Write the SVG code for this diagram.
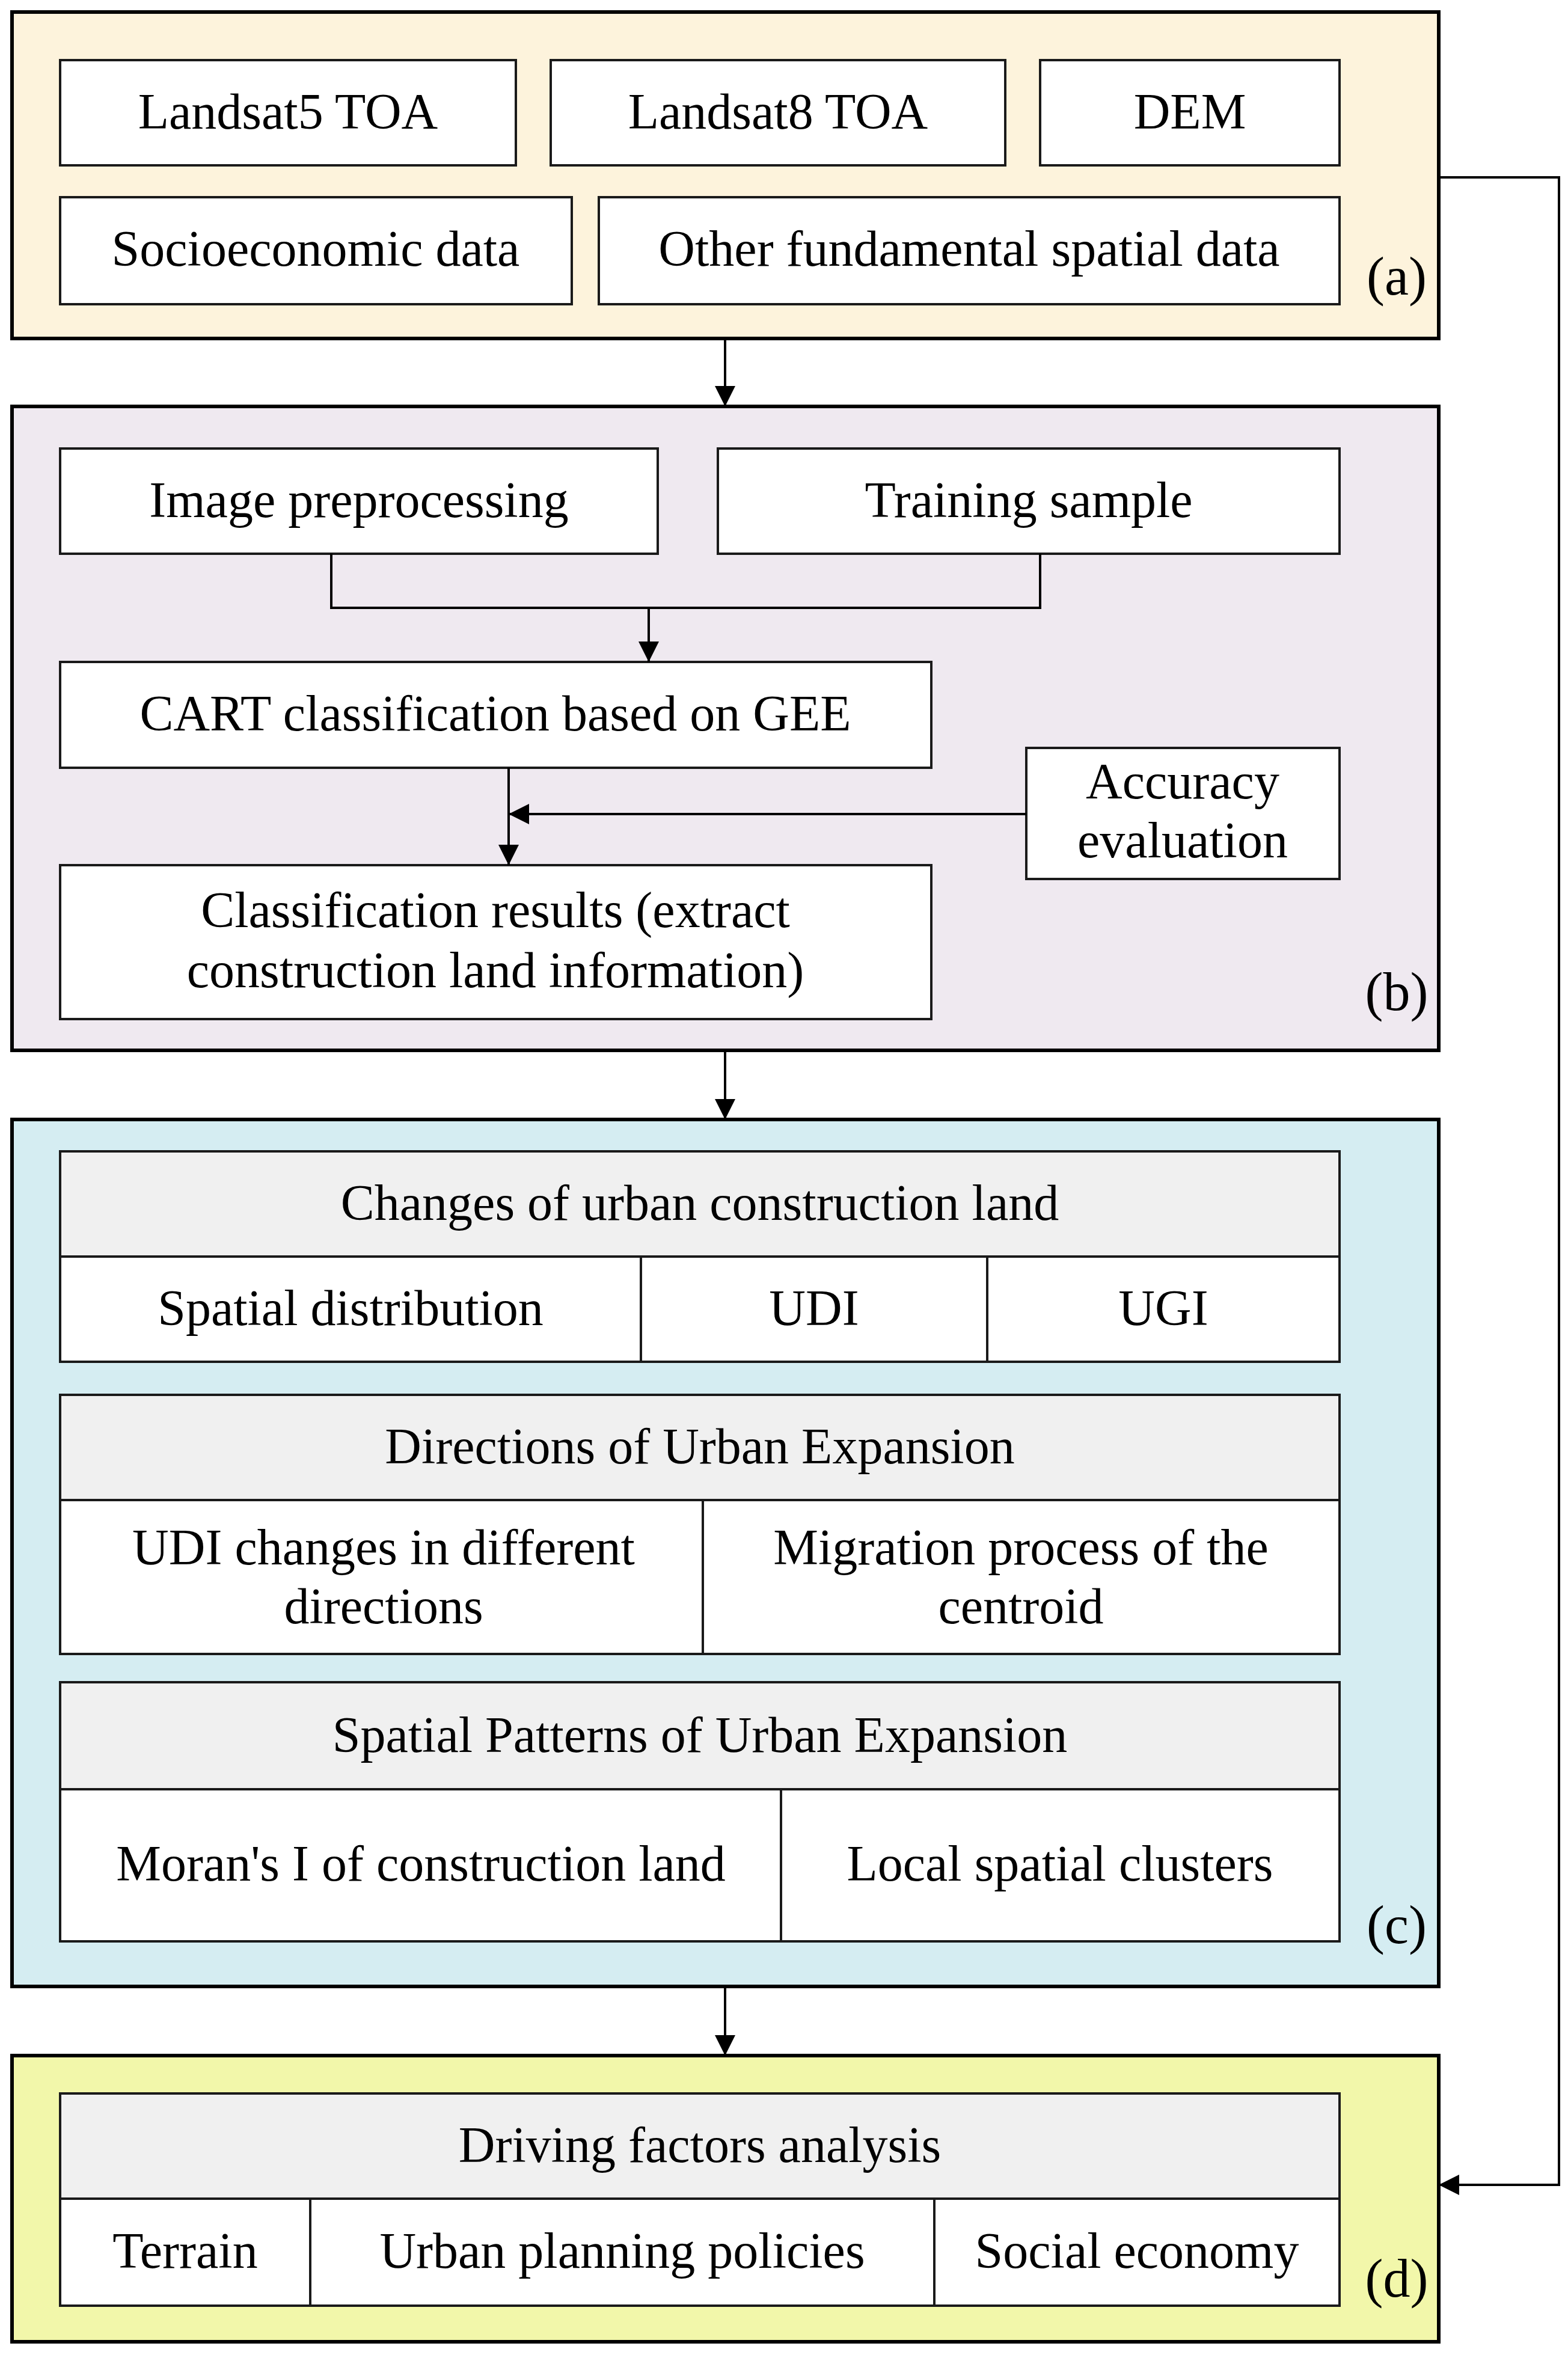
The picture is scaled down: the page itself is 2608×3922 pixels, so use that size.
<svg xmlns="http://www.w3.org/2000/svg" width="2608" height="3922" viewBox="0 0 2608 3922">
<style>
.p{stroke:#000;stroke-width:6}
.b{fill:#fff;stroke:#1a1a1a;stroke-width:4}
.h{fill:#f0f0f0;stroke:#1a1a1a;stroke-width:4}
text{font-family:"Liberation Serif","DejaVu Serif",serif;font-size:84px;fill:#000;text-anchor:middle}
.l{font-size:90px}
.c{fill:none;stroke:#000;stroke-width:4}
</style>
<defs>
<marker id="a" viewBox="0 0 10 10" refX="10" refY="5" markerWidth="40" markerHeight="34" markerUnits="userSpaceOnUse" orient="auto"><path d="M0,0L10,5L0,10z" fill="#000"/></marker></defs>
<rect width="2608" height="3922" fill="#fff"/>
<g id="panelA"><rect class="p" x="20" y="20" width="2373" height="543" fill="#fdf3dc"/><text class="l" x="2323" y="490">(a)</text></g>
<g id="landsat5"><rect class="b" x="100" y="100" width="758" height="175"/><text x="479" y="214">Landsat5 TOA</text></g>
<g id="landsat8"><rect class="b" x="916" y="100" width="756" height="175"/><text x="1294" y="214">Landsat8 TOA</text></g>
<g id="dem"><rect class="b" x="1730" y="100" width="498" height="175"/><text x="1979" y="214">DEM</text></g>
<g id="socio"><rect class="b" x="100" y="328" width="851" height="178"/><text x="525" y="442">Socioeconomic data</text></g>
<g id="other"><rect class="b" x="996" y="328" width="1232" height="178"/><text x="1612" y="442">Other fundamental spatial data</text></g>
<g id="panelB"><rect class="p" x="20" y="676" width="2373" height="1071" fill="#efe9f0"/><text class="l" x="2323" y="1680">(b)</text></g>
<g id="imgpre"><rect class="b" x="100" y="746" width="994" height="175"/><text x="597" y="860">Image preprocessing</text></g>
<g id="training"><rect class="b" x="1194" y="746" width="1034" height="175"/><text x="1711" y="860">Training sample</text></g>
<g id="cart"><rect class="b" x="100" y="1101" width="1449" height="176"/><text x="824" y="1215">CART classification based on GEE</text></g>
<g id="accuracy"><rect class="b" x="1707" y="1244" width="521" height="218"/><text x="1967" y="1328">Accuracy</text><text x="1967" y="1426">evaluation</text></g>
<g id="results"><rect class="b" x="100" y="1439" width="1449" height="256"/><text x="824" y="1542">Classification results (extract</text><text x="824" y="1642">construction land information)</text></g>
<g id="panelC"><rect class="p" x="20" y="1862" width="2373" height="1442" fill="#d5edf2"/><text class="l" x="2323" y="3232">(c)</text></g>
<g id="changes"><rect class="h" x="100" y="1915" width="2128" height="175"/><text x="1164" y="2029">Changes of urban construction land</text>
<rect class="b" x="100" y="2090" width="966" height="175"/><text x="583" y="2204">Spatial distribution</text>
<rect class="b" x="1066" y="2090" width="576" height="175"/><text x="1354" y="2204">UDI</text>
<rect class="b" x="1642" y="2090" width="586" height="175"/><text x="1935" y="2204">UGI</text></g>
<g id="directions"><rect class="h" x="100" y="2320" width="2128" height="175"/><text x="1164" y="2434">Directions of Urban Expansion</text>
<rect class="b" x="100" y="2495" width="1069" height="256"/><text x="638" y="2602">UDI changes in different</text><text x="638" y="2700">directions</text>
<rect class="b" x="1169" y="2495" width="1059" height="256"/><text x="1698" y="2602">Migration process of the</text><text x="1698" y="2700">centroid</text></g>
<g id="patterns"><rect class="h" x="100" y="2798" width="2128" height="178"/><text x="1164" y="2914">Spatial Patterns of Urban Expansion</text>
<rect class="b" x="100" y="2976" width="1199" height="253"/><text x="700" y="3128">Moran's I of construction land</text>
<rect class="b" x="1299" y="2976" width="929" height="253"/><text x="1763" y="3128">Local spatial clusters</text></g>
<g id="panelD"><rect class="p" x="20" y="3419" width="2373" height="476" fill="#f2f7aa"/><text class="l" x="2323" y="3820">(d)</text></g>
<g id="driving"><rect class="h" x="100" y="3482" width="2128" height="175"/><text x="1164" y="3596">Driving factors analysis</text>
<rect class="b" x="100" y="3657" width="416" height="178"/><text x="308" y="3772">Terrain</text>
<rect class="b" x="516" y="3657" width="1038" height="178"/><text x="1035" y="3772">Urban planning policies</text>
<rect class="b" x="1554" y="3657" width="674" height="178"/><text x="1891" y="3772">Social economy</text></g>
<g id="connectors">
<path class="c" d="M1206,563V676" marker-end="url(#a)"/>
<path class="c" d="M551,921V1011H1730V921"/>
<path class="c" d="M1079,1011V1101" marker-end="url(#a)"/>
<path class="c" d="M846,1277V1439" marker-end="url(#a)"/>
<path class="c" d="M1707,1354H846" marker-end="url(#a)"/>
<path class="c" d="M1206,1747V1862" marker-end="url(#a)"/>
<path class="c" d="M1206,3304V3419" marker-end="url(#a)"/>
<path class="c" d="M2393,295H2593V3634H2393" marker-end="url(#a)"/>
</g>
</svg>
